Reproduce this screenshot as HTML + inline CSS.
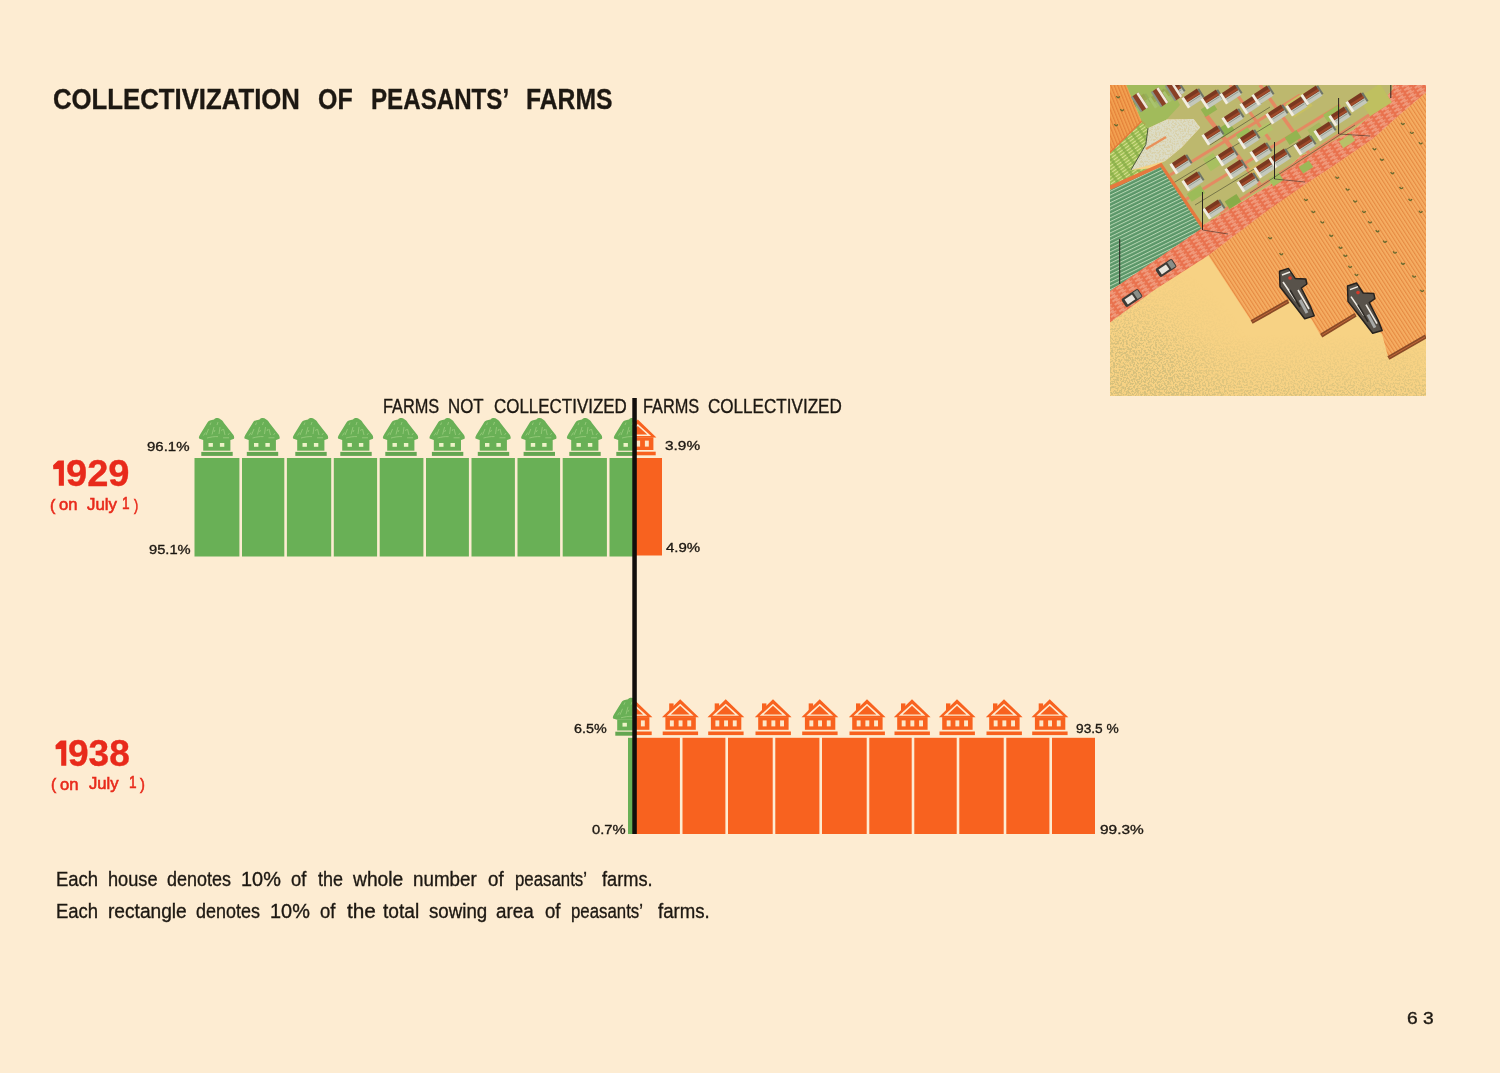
<!DOCTYPE html>
<html><head><meta charset="utf-8"><style>
html,body{margin:0;padding:0;}
body{width:1500px;height:1073px;overflow:hidden;background:#fdecd2;position:relative;font-family:"Liberation Sans",sans-serif;}
.t{position:absolute;white-space:pre;line-height:1;transform-origin:0 0;-webkit-text-stroke:0.35px currentColor;}
.abs{position:absolute;}
</style></head><body>
<svg class="abs" style="left:0;top:0" width="1500" height="1073" viewBox="0 0 1500 1073"><defs><clipPath id="cl1"><rect x="0" y="0" width="634.5" height="1073"/></clipPath><clipPath id="cr1"><rect x="634.5" y="0" width="900" height="1073"/></clipPath></defs><rect x="194.50" y="458" width="44.90" height="98.5" fill="#69b056"/><rect x="242.00" y="458" width="42.30" height="98.5" fill="#69b056"/><rect x="286.90" y="458" width="44.30" height="98.5" fill="#69b056"/><rect x="333.80" y="458" width="43.30" height="98.5" fill="#69b056"/><rect x="379.70" y="458" width="43.70" height="98.5" fill="#69b056"/><rect x="426.00" y="458" width="42.90" height="98.5" fill="#69b056"/><rect x="471.50" y="458" width="43.40" height="98.5" fill="#69b056"/><rect x="517.50" y="458" width="42.60" height="98.5" fill="#69b056"/><rect x="562.70" y="458" width="44.20" height="98.5" fill="#69b056"/><rect x="609.50" y="458" width="25.00" height="98.5" fill="#69b056"/><rect x="634.5" y="458" width="27.5" height="97.5" fill="#f8621f"/><g ><g transform="translate(217,458)"><path d="M-18,-19.4 C-18.6,-21 -17.2,-23 -16,-25 L-9.2,-36 C-8.8,-37.6 -6,-37.8 -3,-38.6 C-1.2,-40.4 1.6,-40.4 3.4,-38.8 C5,-38 6.2,-36.8 6.8,-35.2 L15.6,-24 C16.8,-22.6 17.6,-20.8 17,-19.2 L13.6,-18 L-13.8,-18 Z" fill="#69b056"/><g stroke="#a8d48a" stroke-width="0.8" fill="none" opacity="0.8"><path d="M-11,-23 L-8.5,-29"/><path d="M-5,-23.5 L-3,-31"/><path d="M2,-24 L3,-31"/><path d="M8,-23 L6.5,-29"/><path d="M-7,-33 L-6,-35.5"/><path d="M0,-33 L1,-36"/><path d="M-10,-20 C-6,-21 -3,-21.6 1,-21.4"/><path d="M6,-20.2 L12,-20.2"/><path d="M-13.5,-22.5 L-11.5,-25.5"/><path d="M11,-23 L12.5,-25"/><path d="M-3,-26 L-2,-28"/><path d="M4.5,-27 L5.5,-29"/></g><rect x="-13.8" y="-18.3" width="27.2" height="11" fill="#69b056"/><rect x="-8.5" y="-15" width="4.4" height="3.8" fill="#eef3c8"/><rect x="2.9" y="-15" width="4.4" height="3.8" fill="#eef3c8"/><rect x="-15.7" y="-6.1" width="31.4" height="4" fill="#64a651"/></g></g><g ><g transform="translate(262.5,458)"><path d="M-18,-19.4 C-18.6,-21 -17.2,-23 -16,-25 L-9.2,-36 C-8.8,-37.6 -6,-37.8 -3,-38.6 C-1.2,-40.4 1.6,-40.4 3.4,-38.8 C5,-38 6.2,-36.8 6.8,-35.2 L15.6,-24 C16.8,-22.6 17.6,-20.8 17,-19.2 L13.6,-18 L-13.8,-18 Z" fill="#69b056"/><g stroke="#a8d48a" stroke-width="0.8" fill="none" opacity="0.8"><path d="M-11,-23 L-8.5,-29"/><path d="M-5,-23.5 L-3,-31"/><path d="M2,-24 L3,-31"/><path d="M8,-23 L6.5,-29"/><path d="M-7,-33 L-6,-35.5"/><path d="M0,-33 L1,-36"/><path d="M-10,-20 C-6,-21 -3,-21.6 1,-21.4"/><path d="M6,-20.2 L12,-20.2"/><path d="M-13.5,-22.5 L-11.5,-25.5"/><path d="M11,-23 L12.5,-25"/><path d="M-3,-26 L-2,-28"/><path d="M4.5,-27 L5.5,-29"/></g><rect x="-13.8" y="-18.3" width="27.2" height="11" fill="#69b056"/><rect x="-8.5" y="-15" width="4.4" height="3.8" fill="#eef3c8"/><rect x="2.9" y="-15" width="4.4" height="3.8" fill="#eef3c8"/><rect x="-15.7" y="-6.1" width="31.4" height="4" fill="#64a651"/></g></g><g ><g transform="translate(311,458)"><path d="M-18,-19.4 C-18.6,-21 -17.2,-23 -16,-25 L-9.2,-36 C-8.8,-37.6 -6,-37.8 -3,-38.6 C-1.2,-40.4 1.6,-40.4 3.4,-38.8 C5,-38 6.2,-36.8 6.8,-35.2 L15.6,-24 C16.8,-22.6 17.6,-20.8 17,-19.2 L13.6,-18 L-13.8,-18 Z" fill="#69b056"/><g stroke="#a8d48a" stroke-width="0.8" fill="none" opacity="0.8"><path d="M-11,-23 L-8.5,-29"/><path d="M-5,-23.5 L-3,-31"/><path d="M2,-24 L3,-31"/><path d="M8,-23 L6.5,-29"/><path d="M-7,-33 L-6,-35.5"/><path d="M0,-33 L1,-36"/><path d="M-10,-20 C-6,-21 -3,-21.6 1,-21.4"/><path d="M6,-20.2 L12,-20.2"/><path d="M-13.5,-22.5 L-11.5,-25.5"/><path d="M11,-23 L12.5,-25"/><path d="M-3,-26 L-2,-28"/><path d="M4.5,-27 L5.5,-29"/></g><rect x="-13.8" y="-18.3" width="27.2" height="11" fill="#69b056"/><rect x="-8.5" y="-15" width="4.4" height="3.8" fill="#eef3c8"/><rect x="2.9" y="-15" width="4.4" height="3.8" fill="#eef3c8"/><rect x="-15.7" y="-6.1" width="31.4" height="4" fill="#64a651"/></g></g><g ><g transform="translate(356,458)"><path d="M-18,-19.4 C-18.6,-21 -17.2,-23 -16,-25 L-9.2,-36 C-8.8,-37.6 -6,-37.8 -3,-38.6 C-1.2,-40.4 1.6,-40.4 3.4,-38.8 C5,-38 6.2,-36.8 6.8,-35.2 L15.6,-24 C16.8,-22.6 17.6,-20.8 17,-19.2 L13.6,-18 L-13.8,-18 Z" fill="#69b056"/><g stroke="#a8d48a" stroke-width="0.8" fill="none" opacity="0.8"><path d="M-11,-23 L-8.5,-29"/><path d="M-5,-23.5 L-3,-31"/><path d="M2,-24 L3,-31"/><path d="M8,-23 L6.5,-29"/><path d="M-7,-33 L-6,-35.5"/><path d="M0,-33 L1,-36"/><path d="M-10,-20 C-6,-21 -3,-21.6 1,-21.4"/><path d="M6,-20.2 L12,-20.2"/><path d="M-13.5,-22.5 L-11.5,-25.5"/><path d="M11,-23 L12.5,-25"/><path d="M-3,-26 L-2,-28"/><path d="M4.5,-27 L5.5,-29"/></g><rect x="-13.8" y="-18.3" width="27.2" height="11" fill="#69b056"/><rect x="-8.5" y="-15" width="4.4" height="3.8" fill="#eef3c8"/><rect x="2.9" y="-15" width="4.4" height="3.8" fill="#eef3c8"/><rect x="-15.7" y="-6.1" width="31.4" height="4" fill="#64a651"/></g></g><g ><g transform="translate(401,458)"><path d="M-18,-19.4 C-18.6,-21 -17.2,-23 -16,-25 L-9.2,-36 C-8.8,-37.6 -6,-37.8 -3,-38.6 C-1.2,-40.4 1.6,-40.4 3.4,-38.8 C5,-38 6.2,-36.8 6.8,-35.2 L15.6,-24 C16.8,-22.6 17.6,-20.8 17,-19.2 L13.6,-18 L-13.8,-18 Z" fill="#69b056"/><g stroke="#a8d48a" stroke-width="0.8" fill="none" opacity="0.8"><path d="M-11,-23 L-8.5,-29"/><path d="M-5,-23.5 L-3,-31"/><path d="M2,-24 L3,-31"/><path d="M8,-23 L6.5,-29"/><path d="M-7,-33 L-6,-35.5"/><path d="M0,-33 L1,-36"/><path d="M-10,-20 C-6,-21 -3,-21.6 1,-21.4"/><path d="M6,-20.2 L12,-20.2"/><path d="M-13.5,-22.5 L-11.5,-25.5"/><path d="M11,-23 L12.5,-25"/><path d="M-3,-26 L-2,-28"/><path d="M4.5,-27 L5.5,-29"/></g><rect x="-13.8" y="-18.3" width="27.2" height="11" fill="#69b056"/><rect x="-8.5" y="-15" width="4.4" height="3.8" fill="#eef3c8"/><rect x="2.9" y="-15" width="4.4" height="3.8" fill="#eef3c8"/><rect x="-15.7" y="-6.1" width="31.4" height="4" fill="#64a651"/></g></g><g ><g transform="translate(447.6,458)"><path d="M-18,-19.4 C-18.6,-21 -17.2,-23 -16,-25 L-9.2,-36 C-8.8,-37.6 -6,-37.8 -3,-38.6 C-1.2,-40.4 1.6,-40.4 3.4,-38.8 C5,-38 6.2,-36.8 6.8,-35.2 L15.6,-24 C16.8,-22.6 17.6,-20.8 17,-19.2 L13.6,-18 L-13.8,-18 Z" fill="#69b056"/><g stroke="#a8d48a" stroke-width="0.8" fill="none" opacity="0.8"><path d="M-11,-23 L-8.5,-29"/><path d="M-5,-23.5 L-3,-31"/><path d="M2,-24 L3,-31"/><path d="M8,-23 L6.5,-29"/><path d="M-7,-33 L-6,-35.5"/><path d="M0,-33 L1,-36"/><path d="M-10,-20 C-6,-21 -3,-21.6 1,-21.4"/><path d="M6,-20.2 L12,-20.2"/><path d="M-13.5,-22.5 L-11.5,-25.5"/><path d="M11,-23 L12.5,-25"/><path d="M-3,-26 L-2,-28"/><path d="M4.5,-27 L5.5,-29"/></g><rect x="-13.8" y="-18.3" width="27.2" height="11" fill="#69b056"/><rect x="-8.5" y="-15" width="4.4" height="3.8" fill="#eef3c8"/><rect x="2.9" y="-15" width="4.4" height="3.8" fill="#eef3c8"/><rect x="-15.7" y="-6.1" width="31.4" height="4" fill="#64a651"/></g></g><g ><g transform="translate(493.5,458)"><path d="M-18,-19.4 C-18.6,-21 -17.2,-23 -16,-25 L-9.2,-36 C-8.8,-37.6 -6,-37.8 -3,-38.6 C-1.2,-40.4 1.6,-40.4 3.4,-38.8 C5,-38 6.2,-36.8 6.8,-35.2 L15.6,-24 C16.8,-22.6 17.6,-20.8 17,-19.2 L13.6,-18 L-13.8,-18 Z" fill="#69b056"/><g stroke="#a8d48a" stroke-width="0.8" fill="none" opacity="0.8"><path d="M-11,-23 L-8.5,-29"/><path d="M-5,-23.5 L-3,-31"/><path d="M2,-24 L3,-31"/><path d="M8,-23 L6.5,-29"/><path d="M-7,-33 L-6,-35.5"/><path d="M0,-33 L1,-36"/><path d="M-10,-20 C-6,-21 -3,-21.6 1,-21.4"/><path d="M6,-20.2 L12,-20.2"/><path d="M-13.5,-22.5 L-11.5,-25.5"/><path d="M11,-23 L12.5,-25"/><path d="M-3,-26 L-2,-28"/><path d="M4.5,-27 L5.5,-29"/></g><rect x="-13.8" y="-18.3" width="27.2" height="11" fill="#69b056"/><rect x="-8.5" y="-15" width="4.4" height="3.8" fill="#eef3c8"/><rect x="2.9" y="-15" width="4.4" height="3.8" fill="#eef3c8"/><rect x="-15.7" y="-6.1" width="31.4" height="4" fill="#64a651"/></g></g><g ><g transform="translate(539.3,458)"><path d="M-18,-19.4 C-18.6,-21 -17.2,-23 -16,-25 L-9.2,-36 C-8.8,-37.6 -6,-37.8 -3,-38.6 C-1.2,-40.4 1.6,-40.4 3.4,-38.8 C5,-38 6.2,-36.8 6.8,-35.2 L15.6,-24 C16.8,-22.6 17.6,-20.8 17,-19.2 L13.6,-18 L-13.8,-18 Z" fill="#69b056"/><g stroke="#a8d48a" stroke-width="0.8" fill="none" opacity="0.8"><path d="M-11,-23 L-8.5,-29"/><path d="M-5,-23.5 L-3,-31"/><path d="M2,-24 L3,-31"/><path d="M8,-23 L6.5,-29"/><path d="M-7,-33 L-6,-35.5"/><path d="M0,-33 L1,-36"/><path d="M-10,-20 C-6,-21 -3,-21.6 1,-21.4"/><path d="M6,-20.2 L12,-20.2"/><path d="M-13.5,-22.5 L-11.5,-25.5"/><path d="M11,-23 L12.5,-25"/><path d="M-3,-26 L-2,-28"/><path d="M4.5,-27 L5.5,-29"/></g><rect x="-13.8" y="-18.3" width="27.2" height="11" fill="#69b056"/><rect x="-8.5" y="-15" width="4.4" height="3.8" fill="#eef3c8"/><rect x="2.9" y="-15" width="4.4" height="3.8" fill="#eef3c8"/><rect x="-15.7" y="-6.1" width="31.4" height="4" fill="#64a651"/></g></g><g ><g transform="translate(585,458)"><path d="M-18,-19.4 C-18.6,-21 -17.2,-23 -16,-25 L-9.2,-36 C-8.8,-37.6 -6,-37.8 -3,-38.6 C-1.2,-40.4 1.6,-40.4 3.4,-38.8 C5,-38 6.2,-36.8 6.8,-35.2 L15.6,-24 C16.8,-22.6 17.6,-20.8 17,-19.2 L13.6,-18 L-13.8,-18 Z" fill="#69b056"/><g stroke="#a8d48a" stroke-width="0.8" fill="none" opacity="0.8"><path d="M-11,-23 L-8.5,-29"/><path d="M-5,-23.5 L-3,-31"/><path d="M2,-24 L3,-31"/><path d="M8,-23 L6.5,-29"/><path d="M-7,-33 L-6,-35.5"/><path d="M0,-33 L1,-36"/><path d="M-10,-20 C-6,-21 -3,-21.6 1,-21.4"/><path d="M6,-20.2 L12,-20.2"/><path d="M-13.5,-22.5 L-11.5,-25.5"/><path d="M11,-23 L12.5,-25"/><path d="M-3,-26 L-2,-28"/><path d="M4.5,-27 L5.5,-29"/></g><rect x="-13.8" y="-18.3" width="27.2" height="11" fill="#69b056"/><rect x="-8.5" y="-15" width="4.4" height="3.8" fill="#eef3c8"/><rect x="2.9" y="-15" width="4.4" height="3.8" fill="#eef3c8"/><rect x="-15.7" y="-6.1" width="31.4" height="4" fill="#64a651"/></g></g><g clip-path="url(#cl1)"><g transform="translate(632,458)"><path d="M-18,-19.4 C-18.6,-21 -17.2,-23 -16,-25 L-9.2,-36 C-8.8,-37.6 -6,-37.8 -3,-38.6 C-1.2,-40.4 1.6,-40.4 3.4,-38.8 C5,-38 6.2,-36.8 6.8,-35.2 L15.6,-24 C16.8,-22.6 17.6,-20.8 17,-19.2 L13.6,-18 L-13.8,-18 Z" fill="#69b056"/><g stroke="#a8d48a" stroke-width="0.8" fill="none" opacity="0.8"><path d="M-11,-23 L-8.5,-29"/><path d="M-5,-23.5 L-3,-31"/><path d="M2,-24 L3,-31"/><path d="M8,-23 L6.5,-29"/><path d="M-7,-33 L-6,-35.5"/><path d="M0,-33 L1,-36"/><path d="M-10,-20 C-6,-21 -3,-21.6 1,-21.4"/><path d="M6,-20.2 L12,-20.2"/><path d="M-13.5,-22.5 L-11.5,-25.5"/><path d="M11,-23 L12.5,-25"/><path d="M-3,-26 L-2,-28"/><path d="M4.5,-27 L5.5,-29"/></g><rect x="-13.8" y="-18.3" width="27.2" height="11" fill="#69b056"/><rect x="-8.5" y="-15" width="4.4" height="3.8" fill="#eef3c8"/><rect x="2.9" y="-15" width="4.4" height="3.8" fill="#eef3c8"/><rect x="-15.7" y="-6.1" width="31.4" height="4" fill="#64a651"/></g></g><g clip-path="url(#cr1)"><g transform="translate(638,458.6)"><rect x="-11.2" y="-35" width="4.4" height="10" fill="#f8621f"/><path d="M-18.4,-21.2 L-0.2,-39.2 L18.4,-21.2 Z" fill="#f8621f"/><path d="M-13.6,-22.6 L-0.2,-34.6 L13.2,-22.6 Z" fill="#fdecd2"/><path d="M-9.6,-24 L-0.2,-32.6 L9.2,-24 Z" fill="#f8621f"/><rect x="-15" y="-21.3" width="30.4" height="12.7" fill="#f8621f"/><rect x="-10.5" y="-18" width="3.9" height="6" fill="#fde7c8"/><rect x="-1.8" y="-18" width="3.9" height="6" fill="#fde7c8"/><rect x="6.9" y="-18" width="3.9" height="6" fill="#fde7c8"/><rect x="-17.7" y="-6.9" width="35.4" height="3.6" fill="#f8621f"/></g></g><rect x="628" y="737.8" width="6.5" height="96.20000000000005" fill="#69b056"/><rect x="634.50" y="737.8" width="45.40" height="96.20000000000005" fill="#f8621f"/><rect x="682.50" y="737.8" width="42.90" height="96.20000000000005" fill="#f8621f"/><rect x="728.00" y="737.8" width="44.70" height="96.20000000000005" fill="#f8621f"/><rect x="775.30" y="737.8" width="44.10" height="96.20000000000005" fill="#f8621f"/><rect x="822.00" y="737.8" width="44.70" height="96.20000000000005" fill="#f8621f"/><rect x="869.30" y="737.8" width="42.40" height="96.20000000000005" fill="#f8621f"/><rect x="914.30" y="737.8" width="42.40" height="96.20000000000005" fill="#f8621f"/><rect x="959.30" y="737.8" width="44.40" height="96.20000000000005" fill="#f8621f"/><rect x="1006.30" y="737.8" width="43.10" height="96.20000000000005" fill="#f8621f"/><rect x="1052.00" y="737.8" width="43.00" height="96.20000000000005" fill="#f8621f"/><g clip-path="url(#cl1)"><g transform="translate(631,737.8)"><path d="M-18,-19.4 C-18.6,-21 -17.2,-23 -16,-25 L-9.2,-36 C-8.8,-37.6 -6,-37.8 -3,-38.6 C-1.2,-40.4 1.6,-40.4 3.4,-38.8 C5,-38 6.2,-36.8 6.8,-35.2 L15.6,-24 C16.8,-22.6 17.6,-20.8 17,-19.2 L13.6,-18 L-13.8,-18 Z" fill="#69b056"/><g stroke="#a8d48a" stroke-width="0.8" fill="none" opacity="0.8"><path d="M-11,-23 L-8.5,-29"/><path d="M-5,-23.5 L-3,-31"/><path d="M2,-24 L3,-31"/><path d="M8,-23 L6.5,-29"/><path d="M-7,-33 L-6,-35.5"/><path d="M0,-33 L1,-36"/><path d="M-10,-20 C-6,-21 -3,-21.6 1,-21.4"/><path d="M6,-20.2 L12,-20.2"/><path d="M-13.5,-22.5 L-11.5,-25.5"/><path d="M11,-23 L12.5,-25"/><path d="M-3,-26 L-2,-28"/><path d="M4.5,-27 L5.5,-29"/></g><rect x="-13.8" y="-18.3" width="27.2" height="11" fill="#69b056"/><rect x="-8.5" y="-15" width="4.4" height="3.8" fill="#eef3c8"/><rect x="2.9" y="-15" width="4.4" height="3.8" fill="#eef3c8"/><rect x="-15.7" y="-6.1" width="31.4" height="4" fill="#64a651"/></g></g><g clip-path="url(#cr1)"><g transform="translate(634,738.4)"><rect x="-11.2" y="-35" width="4.4" height="10" fill="#f8621f"/><path d="M-18.4,-21.2 L-0.2,-39.2 L18.4,-21.2 Z" fill="#f8621f"/><path d="M-13.6,-22.6 L-0.2,-34.6 L13.2,-22.6 Z" fill="#fdecd2"/><path d="M-9.6,-24 L-0.2,-32.6 L9.2,-24 Z" fill="#f8621f"/><rect x="-15" y="-21.3" width="30.4" height="12.7" fill="#f8621f"/><rect x="-10.5" y="-18" width="3.9" height="6" fill="#fde7c8"/><rect x="-1.8" y="-18" width="3.9" height="6" fill="#fde7c8"/><rect x="6.9" y="-18" width="3.9" height="6" fill="#fde7c8"/><rect x="-17.7" y="-6.9" width="35.4" height="3.6" fill="#f8621f"/></g></g><g ><g transform="translate(680.4000000000001,738.4)"><rect x="-11.2" y="-35" width="4.4" height="10" fill="#f8621f"/><path d="M-18.4,-21.2 L-0.2,-39.2 L18.4,-21.2 Z" fill="#f8621f"/><path d="M-13.6,-22.6 L-0.2,-34.6 L13.2,-22.6 Z" fill="#fdecd2"/><path d="M-9.6,-24 L-0.2,-32.6 L9.2,-24 Z" fill="#f8621f"/><rect x="-15" y="-21.3" width="30.4" height="12.7" fill="#f8621f"/><rect x="-10.5" y="-18" width="3.9" height="6" fill="#fde7c8"/><rect x="-1.8" y="-18" width="3.9" height="6" fill="#fde7c8"/><rect x="6.9" y="-18" width="3.9" height="6" fill="#fde7c8"/><rect x="-17.7" y="-6.9" width="35.4" height="3.6" fill="#f8621f"/></g></g><g ><g transform="translate(725.9000000000001,738.4)"><rect x="-11.2" y="-35" width="4.4" height="10" fill="#f8621f"/><path d="M-18.4,-21.2 L-0.2,-39.2 L18.4,-21.2 Z" fill="#f8621f"/><path d="M-13.6,-22.6 L-0.2,-34.6 L13.2,-22.6 Z" fill="#fdecd2"/><path d="M-9.6,-24 L-0.2,-32.6 L9.2,-24 Z" fill="#f8621f"/><rect x="-15" y="-21.3" width="30.4" height="12.7" fill="#f8621f"/><rect x="-10.5" y="-18" width="3.9" height="6" fill="#fde7c8"/><rect x="-1.8" y="-18" width="3.9" height="6" fill="#fde7c8"/><rect x="6.9" y="-18" width="3.9" height="6" fill="#fde7c8"/><rect x="-17.7" y="-6.9" width="35.4" height="3.6" fill="#f8621f"/></g></g><g ><g transform="translate(773.2,738.4)"><rect x="-11.2" y="-35" width="4.4" height="10" fill="#f8621f"/><path d="M-18.4,-21.2 L-0.2,-39.2 L18.4,-21.2 Z" fill="#f8621f"/><path d="M-13.6,-22.6 L-0.2,-34.6 L13.2,-22.6 Z" fill="#fdecd2"/><path d="M-9.6,-24 L-0.2,-32.6 L9.2,-24 Z" fill="#f8621f"/><rect x="-15" y="-21.3" width="30.4" height="12.7" fill="#f8621f"/><rect x="-10.5" y="-18" width="3.9" height="6" fill="#fde7c8"/><rect x="-1.8" y="-18" width="3.9" height="6" fill="#fde7c8"/><rect x="6.9" y="-18" width="3.9" height="6" fill="#fde7c8"/><rect x="-17.7" y="-6.9" width="35.4" height="3.6" fill="#f8621f"/></g></g><g ><g transform="translate(819.9000000000001,738.4)"><rect x="-11.2" y="-35" width="4.4" height="10" fill="#f8621f"/><path d="M-18.4,-21.2 L-0.2,-39.2 L18.4,-21.2 Z" fill="#f8621f"/><path d="M-13.6,-22.6 L-0.2,-34.6 L13.2,-22.6 Z" fill="#fdecd2"/><path d="M-9.6,-24 L-0.2,-32.6 L9.2,-24 Z" fill="#f8621f"/><rect x="-15" y="-21.3" width="30.4" height="12.7" fill="#f8621f"/><rect x="-10.5" y="-18" width="3.9" height="6" fill="#fde7c8"/><rect x="-1.8" y="-18" width="3.9" height="6" fill="#fde7c8"/><rect x="6.9" y="-18" width="3.9" height="6" fill="#fde7c8"/><rect x="-17.7" y="-6.9" width="35.4" height="3.6" fill="#f8621f"/></g></g><g ><g transform="translate(867.2,738.4)"><rect x="-11.2" y="-35" width="4.4" height="10" fill="#f8621f"/><path d="M-18.4,-21.2 L-0.2,-39.2 L18.4,-21.2 Z" fill="#f8621f"/><path d="M-13.6,-22.6 L-0.2,-34.6 L13.2,-22.6 Z" fill="#fdecd2"/><path d="M-9.6,-24 L-0.2,-32.6 L9.2,-24 Z" fill="#f8621f"/><rect x="-15" y="-21.3" width="30.4" height="12.7" fill="#f8621f"/><rect x="-10.5" y="-18" width="3.9" height="6" fill="#fde7c8"/><rect x="-1.8" y="-18" width="3.9" height="6" fill="#fde7c8"/><rect x="6.9" y="-18" width="3.9" height="6" fill="#fde7c8"/><rect x="-17.7" y="-6.9" width="35.4" height="3.6" fill="#f8621f"/></g></g><g ><g transform="translate(912.2,738.4)"><rect x="-11.2" y="-35" width="4.4" height="10" fill="#f8621f"/><path d="M-18.4,-21.2 L-0.2,-39.2 L18.4,-21.2 Z" fill="#f8621f"/><path d="M-13.6,-22.6 L-0.2,-34.6 L13.2,-22.6 Z" fill="#fdecd2"/><path d="M-9.6,-24 L-0.2,-32.6 L9.2,-24 Z" fill="#f8621f"/><rect x="-15" y="-21.3" width="30.4" height="12.7" fill="#f8621f"/><rect x="-10.5" y="-18" width="3.9" height="6" fill="#fde7c8"/><rect x="-1.8" y="-18" width="3.9" height="6" fill="#fde7c8"/><rect x="6.9" y="-18" width="3.9" height="6" fill="#fde7c8"/><rect x="-17.7" y="-6.9" width="35.4" height="3.6" fill="#f8621f"/></g></g><g ><g transform="translate(957.2,738.4)"><rect x="-11.2" y="-35" width="4.4" height="10" fill="#f8621f"/><path d="M-18.4,-21.2 L-0.2,-39.2 L18.4,-21.2 Z" fill="#f8621f"/><path d="M-13.6,-22.6 L-0.2,-34.6 L13.2,-22.6 Z" fill="#fdecd2"/><path d="M-9.6,-24 L-0.2,-32.6 L9.2,-24 Z" fill="#f8621f"/><rect x="-15" y="-21.3" width="30.4" height="12.7" fill="#f8621f"/><rect x="-10.5" y="-18" width="3.9" height="6" fill="#fde7c8"/><rect x="-1.8" y="-18" width="3.9" height="6" fill="#fde7c8"/><rect x="6.9" y="-18" width="3.9" height="6" fill="#fde7c8"/><rect x="-17.7" y="-6.9" width="35.4" height="3.6" fill="#f8621f"/></g></g><g ><g transform="translate(1004.2,738.4)"><rect x="-11.2" y="-35" width="4.4" height="10" fill="#f8621f"/><path d="M-18.4,-21.2 L-0.2,-39.2 L18.4,-21.2 Z" fill="#f8621f"/><path d="M-13.6,-22.6 L-0.2,-34.6 L13.2,-22.6 Z" fill="#fdecd2"/><path d="M-9.6,-24 L-0.2,-32.6 L9.2,-24 Z" fill="#f8621f"/><rect x="-15" y="-21.3" width="30.4" height="12.7" fill="#f8621f"/><rect x="-10.5" y="-18" width="3.9" height="6" fill="#fde7c8"/><rect x="-1.8" y="-18" width="3.9" height="6" fill="#fde7c8"/><rect x="6.9" y="-18" width="3.9" height="6" fill="#fde7c8"/><rect x="-17.7" y="-6.9" width="35.4" height="3.6" fill="#f8621f"/></g></g><g ><g transform="translate(1049.9,738.4)"><rect x="-11.2" y="-35" width="4.4" height="10" fill="#f8621f"/><path d="M-18.4,-21.2 L-0.2,-39.2 L18.4,-21.2 Z" fill="#f8621f"/><path d="M-13.6,-22.6 L-0.2,-34.6 L13.2,-22.6 Z" fill="#fdecd2"/><path d="M-9.6,-24 L-0.2,-32.6 L9.2,-24 Z" fill="#f8621f"/><rect x="-15" y="-21.3" width="30.4" height="12.7" fill="#f8621f"/><rect x="-10.5" y="-18" width="3.9" height="6" fill="#fde7c8"/><rect x="-1.8" y="-18" width="3.9" height="6" fill="#fde7c8"/><rect x="6.9" y="-18" width="3.9" height="6" fill="#fde7c8"/><rect x="-17.7" y="-6.9" width="35.4" height="3.6" fill="#f8621f"/></g></g><rect x="632.3" y="398" width="4.5" height="436" fill="#120e0c"/></svg>
<div class="abs" style="left:1110px;top:85px;width:316px;height:311px"><svg width="316" height="311" viewBox="0 0 316 311" style="display:block"><defs>
<pattern id="pOr" patternUnits="userSpaceOnUse" width="3.2" height="8" patternTransform="rotate(-33)">
<rect width="3.2" height="8" fill="#f5ad62"/><rect x="0" width="1.1" height="8" fill="#e68a42"/></pattern>
<pattern id="pOr2" patternUnits="userSpaceOnUse" width="3.2" height="8" patternTransform="rotate(-22)">
<rect width="3.2" height="8" fill="#f2a050"/><rect x="0" width="1.2" height="8" fill="#e4823a"/></pattern>
<pattern id="pGr" patternUnits="userSpaceOnUse" width="8" height="3.4" patternTransform="rotate(-26)">
<rect width="8" height="3.4" fill="#5a9668"/><rect y="0" width="8" height="1.0" fill="#b4d4b0"/></pattern>
<pattern id="pLg" patternUnits="userSpaceOnUse" width="8" height="3" patternTransform="rotate(-35)">
<rect width="8" height="3" fill="#9fbf55"/><rect y="0" width="5" height="1" fill="#d6e090"/><rect x="5" y="1.5" width="3" height="0.8" fill="#6f9a40"/></pattern>
<pattern id="pRd" patternUnits="userSpaceOnUse" width="10" height="4" patternTransform="rotate(-34)">
<rect width="10" height="4" fill="#e9724e"/><rect x="1" y="0.5" width="6" height="0.9" fill="#f8c8b0"/><rect x="4" y="2.4" width="5" height="0.8" fill="#f4b49a"/></pattern>
<filter id="spk" x="0" y="0" width="100%" height="100%">
<feTurbulence type="fractalNoise" baseFrequency="0.55" numOctaves="2" seed="3" result="n"/>
<feColorMatrix in="n" type="matrix" values="0 0 0 0 0.66  0 0 0 0 0.52  0 0 0 0 0.20  0 0 0 -6 3.3" result="c"/>
<feComposite in="c" in2="SourceGraphic" operator="in"/>
</filter>
<radialGradient id="gR" cx="10" cy="311" r="140" gradientUnits="userSpaceOnUse">
<stop offset="0" stop-color="#fff" stop-opacity="1"/><stop offset="0.4" stop-color="#fff" stop-opacity="0.9"/><stop offset="0.75" stop-color="#fff" stop-opacity="0.2"/><stop offset="1" stop-color="#fff" stop-opacity="0"/></radialGradient>
<linearGradient id="gB" x1="0" y1="311" x2="0" y2="250" gradientUnits="userSpaceOnUse">
<stop offset="0" stop-color="#fff" stop-opacity="0.9"/><stop offset="0.2" stop-color="#fff" stop-opacity="0.6"/><stop offset="1" stop-color="#fff" stop-opacity="0"/></linearGradient>
<mask id="mR"><rect width="316" height="311" fill="url(#gR)"/></mask>
<mask id="mB"><rect width="316" height="311" fill="url(#gB)"/></mask>
</defs><rect width="316" height="311" fill="#f7d284"/><g mask="url(#mR)"><rect x="0" y="150" width="316" height="161" fill="#000" filter="url(#spk)"/></g><g mask="url(#mB)"><rect x="0" y="240" width="316" height="71" fill="#000" filter="url(#spk)"/></g><path d="M98.4,170.4 L123.8,151 L150,129.7 L198.8,96.9 L224.1,80.5 L262.9,53.7 L289.7,29.8 L314.3,8.9 L316,8 L316,250.6 L278.4,273 L272,249 L246.4,229.8 L211.2,251.4 L201.6,234.6 L179.2,215.4 L142.4,237.8 Z" fill="url(#pOr)"/><path d="M0,204 L89.5,142 L160,100 L189.8,71.6 L216.7,59.6 L243.5,44.7 L261.4,29.8 L282.3,4.5 L282.3,0 L316,0 L316,8 L314.3,8.9 L289.7,29.8 L262.9,53.7 L224.1,80.5 L198.8,96.9 L160,123.8 L123.8,151 L98.4,170.4 L44.7,204.7 L0,237.5 Z" fill="url(#pRd)"/><path d="M47,80 L89.5,142 L160,100 L189.8,71.6 L216.7,59.6 L243.5,44.7 L261.4,29.8 L282.3,4.5 L282.3,0 L16,0 L32,37 L38,43.2 L56.7,34.6 L83.5,34 L90.2,42.5 L71.6,62.6 L55.2,76 Z" fill="#bdb86e"/><line x1="96" y1="30" x2="150" y2="100" stroke="#e48a62" stroke-width="4.5"/><line x1="150" y1="0" x2="200" y2="70" stroke="#e48a62" stroke-width="3.5"/><line x1="60" y1="90" x2="190" y2="10" stroke="#e48a62" stroke-width="3"/><line x1="75" y1="115" x2="230" y2="20" stroke="#e48a62" stroke-width="3"/><line x1="110" y1="128" x2="262" y2="28" stroke="#e48a62" stroke-width="3"/><line x1="120" y1="0" x2="160" y2="55" stroke="#e48a62" stroke-width="3"/><rect x="178" y="12" width="22" height="16" fill="#c8c060" transform="rotate(-33 189.0 20.0)"/><rect x="252" y="4" width="26" height="22" fill="#bfc060" transform="rotate(-33 265.0 15.0)"/><rect x="128" y="45" width="14" height="12" fill="#9cbc58" transform="rotate(-33 135.0 51.0)"/><rect x="96" y="70" width="12" height="14" fill="#a8c060" transform="rotate(-33 102.0 77.0)"/><rect x="140" y="80" width="14" height="12" fill="#d0b860" transform="rotate(-33 147.0 86.0)"/><rect x="200" y="40" width="14" height="14" fill="#a8b860" transform="rotate(-33 207.0 47.0)"/><rect x="62" y="38" width="18" height="10" fill="#98b850" transform="rotate(-33 71.0 43.0)"/><rect x="108" y="40" width="15" height="10" fill="#8cb04c" transform="rotate(-33 115.5 45.0)"/><rect x="78" y="104" width="16" height="9" fill="#9cbc58" transform="rotate(-33 86.0 108.5)"/><rect x="148" y="40" width="14" height="9" fill="#b4c468" transform="rotate(-33 155.0 44.5)"/><rect x="176" y="48" width="14" height="9" fill="#94b450" transform="rotate(-33 183.0 52.5)"/><rect x="214" y="24" width="18" height="9" fill="#a0bc58" transform="rotate(-33 223.0 28.5)"/><rect x="116" y="112" width="14" height="9" fill="#88ac48" transform="rotate(-33 123.0 116.5)"/><rect x="160" y="90" width="12" height="9" fill="#a4c060" transform="rotate(-33 166.0 94.5)"/><rect x="92" y="20" width="14" height="9" fill="#94b450" transform="rotate(-33 99.0 24.5)"/><rect x="230" y="52" width="14" height="8" fill="#b8c068" transform="rotate(-33 237.0 56.0)"/><rect x="190" y="78" width="12" height="8" fill="#9cb858" transform="rotate(-33 196.0 82.0)"/><line x1="60" y1="100" x2="175" y2="30" stroke="#5a5a38" stroke-width="1" opacity="0.7"/><line x1="85" y1="120" x2="200" y2="50" stroke="#5a5a38" stroke-width="1" opacity="0.7"/><line x1="100" y1="60" x2="160" y2="22" stroke="#5a5a38" stroke-width="1" opacity="0.7"/><line x1="140" y1="108" x2="245" y2="40" stroke="#5a5a38" stroke-width="1" opacity="0.7"/><g transform="translate(30,17) rotate(-33)"><rect x="-8" y="1" width="16" height="6" fill="#c4c8bc"/><rect x="-7" y="2.5" width="14" height="0.8" fill="#8e9890"/><rect x="-8" y="-5" width="16" height="6.5" fill="#7a3820"/><rect x="-8" y="-1.2" width="16" height="2.2" fill="#a04a2a"/><rect x="-10.5" y="-5" width="2.8" height="12" fill="#f2ede2"/><rect x="7.8" y="-4" width="2" height="10" fill="#6e7468"/></g><g transform="translate(50,12) rotate(-33)"><rect x="-8" y="1" width="16" height="6" fill="#c4c8bc"/><rect x="-7" y="2.5" width="14" height="0.8" fill="#8e9890"/><rect x="-8" y="-5" width="16" height="6.5" fill="#7a3820"/><rect x="-8" y="-1.2" width="16" height="2.2" fill="#a04a2a"/><rect x="-10.5" y="-5" width="2.8" height="12" fill="#f2ede2"/><rect x="7.8" y="-4" width="2" height="10" fill="#6e7468"/></g><g transform="translate(64,6) rotate(-33)"><rect x="-8" y="1" width="16" height="6" fill="#c4c8bc"/><rect x="-7" y="2.5" width="14" height="0.8" fill="#8e9890"/><rect x="-8" y="-5" width="16" height="6.5" fill="#7a3820"/><rect x="-8" y="-1.2" width="16" height="2.2" fill="#a04a2a"/><rect x="-10.5" y="-5" width="2.8" height="12" fill="#f2ede2"/><rect x="7.8" y="-4" width="2" height="10" fill="#6e7468"/></g><g transform="translate(83,12) rotate(-33)"><rect x="-8" y="1" width="16" height="6" fill="#c4c8bc"/><rect x="-7" y="2.5" width="14" height="0.8" fill="#8e9890"/><rect x="-8" y="-5" width="16" height="6.5" fill="#7a3820"/><rect x="-8" y="-1.2" width="16" height="2.2" fill="#a04a2a"/><rect x="-10.5" y="-5" width="2.8" height="12" fill="#f2ede2"/><rect x="7.8" y="-4" width="2" height="10" fill="#6e7468"/></g><g transform="translate(102,13) rotate(-33)"><rect x="-8" y="1" width="16" height="6" fill="#c4c8bc"/><rect x="-7" y="2.5" width="14" height="0.8" fill="#8e9890"/><rect x="-8" y="-5" width="16" height="6.5" fill="#7a3820"/><rect x="-8" y="-1.2" width="16" height="2.2" fill="#a04a2a"/><rect x="-10.5" y="-5" width="2.8" height="12" fill="#f2ede2"/><rect x="7.8" y="-4" width="2" height="10" fill="#6e7468"/></g><g transform="translate(121,8) rotate(-33)"><rect x="-8" y="1" width="16" height="6" fill="#c4c8bc"/><rect x="-7" y="2.5" width="14" height="0.8" fill="#8e9890"/><rect x="-8" y="-5" width="16" height="6.5" fill="#7a3820"/><rect x="-8" y="-1.2" width="16" height="2.2" fill="#a04a2a"/><rect x="-10.5" y="-5" width="2.8" height="12" fill="#f2ede2"/><rect x="7.8" y="-4" width="2" height="10" fill="#6e7468"/></g><g transform="translate(141,18) rotate(-33)"><rect x="-8" y="1" width="16" height="6" fill="#c4c8bc"/><rect x="-7" y="2.5" width="14" height="0.8" fill="#8e9890"/><rect x="-8" y="-5" width="16" height="6.5" fill="#7a3820"/><rect x="-8" y="-1.2" width="16" height="2.2" fill="#a04a2a"/><rect x="-10.5" y="-5" width="2.8" height="12" fill="#f2ede2"/><rect x="7.8" y="-4" width="2" height="10" fill="#6e7468"/></g><g transform="translate(153,9) rotate(-33)"><rect x="-8" y="1" width="16" height="6" fill="#c4c8bc"/><rect x="-7" y="2.5" width="14" height="0.8" fill="#8e9890"/><rect x="-8" y="-5" width="16" height="6.5" fill="#7a3820"/><rect x="-8" y="-1.2" width="16" height="2.2" fill="#a04a2a"/><rect x="-10.5" y="-5" width="2.8" height="12" fill="#f2ede2"/><rect x="7.8" y="-4" width="2" height="10" fill="#6e7468"/></g><g transform="translate(123,32) rotate(-33)"><rect x="-8" y="1" width="16" height="6" fill="#c4c8bc"/><rect x="-7" y="2.5" width="14" height="0.8" fill="#8e9890"/><rect x="-8" y="-5" width="16" height="6.5" fill="#7a3820"/><rect x="-8" y="-1.2" width="16" height="2.2" fill="#a04a2a"/><rect x="-10.5" y="-5" width="2.8" height="12" fill="#f2ede2"/><rect x="7.8" y="-4" width="2" height="10" fill="#6e7468"/></g><g transform="translate(103,49) rotate(-33)"><rect x="-8" y="1" width="16" height="6" fill="#c4c8bc"/><rect x="-7" y="2.5" width="14" height="0.8" fill="#8e9890"/><rect x="-8" y="-5" width="16" height="6.5" fill="#7a3820"/><rect x="-8" y="-1.2" width="16" height="2.2" fill="#a04a2a"/><rect x="-10.5" y="-5" width="2.8" height="12" fill="#f2ede2"/><rect x="7.8" y="-4" width="2" height="10" fill="#6e7468"/></g><g transform="translate(139,53) rotate(-33)"><rect x="-8" y="1" width="16" height="6" fill="#c4c8bc"/><rect x="-7" y="2.5" width="14" height="0.8" fill="#8e9890"/><rect x="-8" y="-5" width="16" height="6.5" fill="#7a3820"/><rect x="-8" y="-1.2" width="16" height="2.2" fill="#a04a2a"/><rect x="-10.5" y="-5" width="2.8" height="12" fill="#f2ede2"/><rect x="7.8" y="-4" width="2" height="10" fill="#6e7468"/></g><g transform="translate(71,78) rotate(-33)"><rect x="-8" y="1" width="16" height="6" fill="#c4c8bc"/><rect x="-7" y="2.5" width="14" height="0.8" fill="#8e9890"/><rect x="-8" y="-5" width="16" height="6.5" fill="#7a3820"/><rect x="-8" y="-1.2" width="16" height="2.2" fill="#a04a2a"/><rect x="-10.5" y="-5" width="2.8" height="12" fill="#f2ede2"/><rect x="7.8" y="-4" width="2" height="10" fill="#6e7468"/></g><g transform="translate(117,70) rotate(-33)"><rect x="-8" y="1" width="16" height="6" fill="#c4c8bc"/><rect x="-7" y="2.5" width="14" height="0.8" fill="#8e9890"/><rect x="-8" y="-5" width="16" height="6.5" fill="#7a3820"/><rect x="-8" y="-1.2" width="16" height="2.2" fill="#a04a2a"/><rect x="-10.5" y="-5" width="2.8" height="12" fill="#f2ede2"/><rect x="7.8" y="-4" width="2" height="10" fill="#6e7468"/></g><g transform="translate(83,95) rotate(-33)"><rect x="-8" y="1" width="16" height="6" fill="#c4c8bc"/><rect x="-7" y="2.5" width="14" height="0.8" fill="#8e9890"/><rect x="-8" y="-5" width="16" height="6.5" fill="#7a3820"/><rect x="-8" y="-1.2" width="16" height="2.2" fill="#a04a2a"/><rect x="-10.5" y="-5" width="2.8" height="12" fill="#f2ede2"/><rect x="7.8" y="-4" width="2" height="10" fill="#6e7468"/></g><g transform="translate(126,83) rotate(-33)"><rect x="-8" y="1" width="16" height="6" fill="#c4c8bc"/><rect x="-7" y="2.5" width="14" height="0.8" fill="#8e9890"/><rect x="-8" y="-5" width="16" height="6.5" fill="#7a3820"/><rect x="-8" y="-1.2" width="16" height="2.2" fill="#a04a2a"/><rect x="-10.5" y="-5" width="2.8" height="12" fill="#f2ede2"/><rect x="7.8" y="-4" width="2" height="10" fill="#6e7468"/></g><g transform="translate(151,66) rotate(-33)"><rect x="-8" y="1" width="16" height="6" fill="#c4c8bc"/><rect x="-7" y="2.5" width="14" height="0.8" fill="#8e9890"/><rect x="-8" y="-5" width="16" height="6.5" fill="#7a3820"/><rect x="-8" y="-1.2" width="16" height="2.2" fill="#a04a2a"/><rect x="-10.5" y="-5" width="2.8" height="12" fill="#f2ede2"/><rect x="7.8" y="-4" width="2" height="10" fill="#6e7468"/></g><g transform="translate(104,123) rotate(-33)"><rect x="-8" y="1" width="16" height="6" fill="#c4c8bc"/><rect x="-7" y="2.5" width="14" height="0.8" fill="#8e9890"/><rect x="-8" y="-5" width="16" height="6.5" fill="#7a3820"/><rect x="-8" y="-1.2" width="16" height="2.2" fill="#a04a2a"/><rect x="-10.5" y="-5" width="2.8" height="12" fill="#f2ede2"/><rect x="7.8" y="-4" width="2" height="10" fill="#6e7468"/></g><g transform="translate(138,96) rotate(-33)"><rect x="-8" y="1" width="16" height="6" fill="#c4c8bc"/><rect x="-7" y="2.5" width="14" height="0.8" fill="#8e9890"/><rect x="-8" y="-5" width="16" height="6.5" fill="#7a3820"/><rect x="-8" y="-1.2" width="16" height="2.2" fill="#a04a2a"/><rect x="-10.5" y="-5" width="2.8" height="12" fill="#f2ede2"/><rect x="7.8" y="-4" width="2" height="10" fill="#6e7468"/></g><g transform="translate(155,82) rotate(-33)"><rect x="-8" y="1" width="16" height="6" fill="#c4c8bc"/><rect x="-7" y="2.5" width="14" height="0.8" fill="#8e9890"/><rect x="-8" y="-5" width="16" height="6.5" fill="#7a3820"/><rect x="-8" y="-1.2" width="16" height="2.2" fill="#a04a2a"/><rect x="-10.5" y="-5" width="2.8" height="12" fill="#f2ede2"/><rect x="7.8" y="-4" width="2" height="10" fill="#6e7468"/></g><g transform="translate(167,28) rotate(-33)"><rect x="-8" y="1" width="16" height="6" fill="#c4c8bc"/><rect x="-7" y="2.5" width="14" height="0.8" fill="#8e9890"/><rect x="-8" y="-5" width="16" height="6.5" fill="#7a3820"/><rect x="-8" y="-1.2" width="16" height="2.2" fill="#a04a2a"/><rect x="-10.5" y="-5" width="2.8" height="12" fill="#f2ede2"/><rect x="7.8" y="-4" width="2" height="10" fill="#6e7468"/></g><g transform="translate(187,20) rotate(-33)"><rect x="-8" y="1" width="16" height="6" fill="#c4c8bc"/><rect x="-7" y="2.5" width="14" height="0.8" fill="#8e9890"/><rect x="-8" y="-5" width="16" height="6.5" fill="#7a3820"/><rect x="-8" y="-1.2" width="16" height="2.2" fill="#a04a2a"/><rect x="-10.5" y="-5" width="2.8" height="12" fill="#f2ede2"/><rect x="7.8" y="-4" width="2" height="10" fill="#6e7468"/></g><g transform="translate(202,9) rotate(-33)"><rect x="-8" y="1" width="16" height="6" fill="#c4c8bc"/><rect x="-7" y="2.5" width="14" height="0.8" fill="#8e9890"/><rect x="-8" y="-5" width="16" height="6.5" fill="#7a3820"/><rect x="-8" y="-1.2" width="16" height="2.2" fill="#a04a2a"/><rect x="-10.5" y="-5" width="2.8" height="12" fill="#f2ede2"/><rect x="7.8" y="-4" width="2" height="10" fill="#6e7468"/></g><g transform="translate(230,30) rotate(-33)"><rect x="-8" y="1" width="16" height="6" fill="#c4c8bc"/><rect x="-7" y="2.5" width="14" height="0.8" fill="#8e9890"/><rect x="-8" y="-5" width="16" height="6.5" fill="#7a3820"/><rect x="-8" y="-1.2" width="16" height="2.2" fill="#a04a2a"/><rect x="-10.5" y="-5" width="2.8" height="12" fill="#f2ede2"/><rect x="7.8" y="-4" width="2" height="10" fill="#6e7468"/></g><g transform="translate(247,16) rotate(-33)"><rect x="-8" y="1" width="16" height="6" fill="#c4c8bc"/><rect x="-7" y="2.5" width="14" height="0.8" fill="#8e9890"/><rect x="-8" y="-5" width="16" height="6.5" fill="#7a3820"/><rect x="-8" y="-1.2" width="16" height="2.2" fill="#a04a2a"/><rect x="-10.5" y="-5" width="2.8" height="12" fill="#f2ede2"/><rect x="7.8" y="-4" width="2" height="10" fill="#6e7468"/></g><g transform="translate(195,59) rotate(-33)"><rect x="-8" y="1" width="16" height="6" fill="#c4c8bc"/><rect x="-7" y="2.5" width="14" height="0.8" fill="#8e9890"/><rect x="-8" y="-5" width="16" height="6.5" fill="#7a3820"/><rect x="-8" y="-1.2" width="16" height="2.2" fill="#a04a2a"/><rect x="-10.5" y="-5" width="2.8" height="12" fill="#f2ede2"/><rect x="7.8" y="-4" width="2" height="10" fill="#6e7468"/></g><g transform="translate(170,72) rotate(-33)"><rect x="-8" y="1" width="16" height="6" fill="#c4c8bc"/><rect x="-7" y="2.5" width="14" height="0.8" fill="#8e9890"/><rect x="-8" y="-5" width="16" height="6.5" fill="#7a3820"/><rect x="-8" y="-1.2" width="16" height="2.2" fill="#a04a2a"/><rect x="-10.5" y="-5" width="2.8" height="12" fill="#f2ede2"/><rect x="7.8" y="-4" width="2" height="10" fill="#6e7468"/></g><g transform="translate(215,45) rotate(-33)"><rect x="-8" y="1" width="16" height="6" fill="#c4c8bc"/><rect x="-7" y="2.5" width="14" height="0.8" fill="#8e9890"/><rect x="-8" y="-5" width="16" height="6.5" fill="#7a3820"/><rect x="-8" y="-1.2" width="16" height="2.2" fill="#a04a2a"/><rect x="-10.5" y="-5" width="2.8" height="12" fill="#f2ede2"/><rect x="7.8" y="-4" width="2" height="10" fill="#6e7468"/></g><path d="M0,0 L16.4,0 L32,37 L0,68.6 Z" fill="url(#pOr2)"/><path d="M0,68.6 L32,37 L35,40" stroke="#e47a3c" stroke-width="3" fill="none"/><path d="M0,68.6 L32,37 L38,43.2 L35.8,59.6 L20.9,85 L49.2,82.8 L0,104.4 Z" fill="url(#pLg)"/><path d="M16.4,0 L60,0 L70,20 L56.7,34.6 L38,43.2 L32,37 Z" fill="#9cbb58" opacity="0.85"/><g transform="translate(30,17) rotate(57)"><rect x="-9" y="-4" width="18" height="8" fill="#8a4026"/><rect x="-9" y="-4" width="18" height="2.5" fill="#f0e8dc"/><rect x="-9" y="3" width="18" height="2" fill="#8a9488"/></g><g transform="translate(50,12) rotate(57)"><rect x="-9" y="-4" width="18" height="8" fill="#8a4026"/><rect x="-9" y="-4" width="18" height="2.5" fill="#f0e8dc"/><rect x="-9" y="3" width="18" height="2" fill="#8a9488"/></g><g transform="translate(64,6) rotate(57)"><rect x="-9" y="-4" width="18" height="8" fill="#8a4026"/><rect x="-9" y="-4" width="18" height="2.5" fill="#f0e8dc"/><rect x="-9" y="3" width="18" height="2" fill="#8a9488"/></g><path d="M38,43.2 L56.7,34.6 L83.5,34 L90.2,42.5 L71.6,62.6 L55.2,76 L20.9,85 L35.8,59.6 Z" fill="#dcdcc6"/><path d="M38,43.2 L56.7,34.6 L83.5,34 L90.2,42.5 L71.6,62.6 L55.2,76 L20.9,85 L35.8,59.6 Z" fill="#6a9a88" opacity="0.35" filter="url(#spk)"/><path d="M20.9,85 L35.8,59.6 L38,43.2" stroke="#4a5a3a" stroke-width="1" fill="none"/><path d="M36,64 L56,52" stroke="#e8905a" stroke-width="2.2" fill="none"/><path d="M0,103 L50.7,80.5 L92.5,143" stroke="#e6783e" stroke-width="4.5" fill="none"/><path d="M0,105 L50.5,82 L91.5,143.5 L0,206 Z" fill="url(#pGr)"/><g transform="translate(56,183) rotate(-34)"><rect x="-10" y="-5" width="20" height="10" rx="2" fill="#3c3a36"/><rect x="-7" y="-3" width="9" height="6" fill="#e8e4dc"/><rect x="4" y="-4" width="5" height="8" fill="#8a8e88"/></g><g transform="translate(22,213) rotate(-34)"><rect x="-10" y="-5" width="20" height="10" rx="2" fill="#3c3a36"/><rect x="-7" y="-3" width="9" height="6" fill="#e8e4dc"/><rect x="4" y="-4" width="5" height="8" fill="#8a8e88"/></g><line x1="141.6" y1="237" x2="178.4" y2="216.2" stroke="#8a4a26" stroke-width="4.2"/><line x1="142.6" y1="236.4" x2="177.4" y2="216.79999999999998" stroke="#c0683a" stroke-width="1"/><line x1="211.2" y1="250.6" x2="245.6" y2="229.8" stroke="#8a4a26" stroke-width="4.2"/><line x1="212.2" y1="250.0" x2="244.6" y2="230.4" stroke="#c0683a" stroke-width="1"/><line x1="278.4" y1="273" x2="316" y2="251.4" stroke="#8a4a26" stroke-width="4.2"/><line x1="279.4" y1="272.4" x2="315" y2="252.0" stroke="#c0683a" stroke-width="1"/><polygon points="169.5,186.2 178.4,183.4 185.2,193.4 195.8,194 196.9,199 191.3,203 200.2,220.8 204.2,230.9 194.7,233.7 184,219.7 170,201.8" fill="#58524a" stroke="#26221e" stroke-width="1.5" stroke-linejoin="round"/><polygon points="237.5,201 246.5,198 253.2,208 263.8,208.6 264.9,213.6 259.3,217.6 268.2,235.4 272.2,245.5 262.7,248.3 252,234.3 238,216.4" fill="#58524a" stroke="#26221e" stroke-width="1.5" stroke-linejoin="round"/><g transform="translate(0,0)"><path d="M172,190 L180,187" stroke="#f0ece4" stroke-width="1.5"/><path d="M173,197 L186,216 M188,205 L199,224" stroke="#eeeae2" stroke-width="1.6"/><path d="M180,205 L190,222" stroke="#2e2a24" stroke-width="1.6"/><path d="M190,215 L197,228" stroke="#a8aaa8" stroke-width="3"/><circle cx="180" cy="193" r="1.8" fill="#d83a2a"/></g><g transform="translate(68,14.6)"><path d="M172,190 L180,187" stroke="#f0ece4" stroke-width="1.5"/><path d="M173,197 L186,216 M188,205 L199,224" stroke="#eeeae2" stroke-width="1.6"/><path d="M180,205 L190,222" stroke="#2e2a24" stroke-width="1.6"/><path d="M190,215 L197,228" stroke="#a8aaa8" stroke-width="3"/><circle cx="180" cy="193" r="1.8" fill="#d83a2a"/></g><path d="M291.09999999999997,37.8 Q292.7,41.0 294.5,38.199999999999996" stroke="#6a6a30" stroke-width="1.4" fill="none"/><path d="M300.09999999999997,46.7 Q301.7,49.900000000000006 303.5,47.1" stroke="#6a6a30" stroke-width="1.4" fill="none"/><path d="M309.0,57.2 Q310.6,60.400000000000006 312.40000000000003,57.6" stroke="#6a6a30" stroke-width="1.4" fill="none"/><path d="M262.79999999999995,63 Q264.4,66.2 266.2,63.4" stroke="#6a6a30" stroke-width="1.4" fill="none"/><path d="M270.2,73.6 Q271.8,76.8 273.6,74.0" stroke="#6a6a30" stroke-width="1.4" fill="none"/><path d="M280.7,87 Q282.3,90.2 284.1,87.4" stroke="#6a6a30" stroke-width="1.4" fill="none"/><path d="M289.59999999999997,101.9 Q291.2,105.10000000000001 293.0,102.30000000000001" stroke="#6a6a30" stroke-width="1.4" fill="none"/><path d="M298.59999999999997,113.8 Q300.2,117.0 302.0,114.2" stroke="#6a6a30" stroke-width="1.4" fill="none"/><path d="M309.0,125.8 Q310.6,129.0 312.40000000000003,126.2" stroke="#6a6a30" stroke-width="1.4" fill="none"/><path d="M225.5,91.5 Q227.1,94.7 228.9,91.9" stroke="#6a6a30" stroke-width="1.4" fill="none"/><path d="M235.9,103.4 Q237.5,106.60000000000001 239.3,103.80000000000001" stroke="#6a6a30" stroke-width="1.4" fill="none"/><path d="M243.4,115.3 Q245,118.5 246.8,115.7" stroke="#6a6a30" stroke-width="1.4" fill="none"/><path d="M252.3,125.8 Q253.9,129.0 255.70000000000002,126.2" stroke="#6a6a30" stroke-width="1.4" fill="none"/><path d="M258.29999999999995,136.2 Q259.9,139.39999999999998 261.7,136.6" stroke="#6a6a30" stroke-width="1.4" fill="none"/><path d="M265.79999999999995,145.1 Q267.4,148.29999999999998 269.2,145.5" stroke="#6a6a30" stroke-width="1.4" fill="none"/><path d="M273.2,155.6 Q274.8,158.79999999999998 276.6,156.0" stroke="#6a6a30" stroke-width="1.4" fill="none"/><path d="M194.20000000000002,113.8 Q195.8,117.0 197.60000000000002,114.2" stroke="#6a6a30" stroke-width="1.4" fill="none"/><path d="M201.6,125.8 Q203.2,129.0 205.0,126.2" stroke="#6a6a30" stroke-width="1.4" fill="none"/><path d="M210.6,136.2 Q212.2,139.39999999999998 214.0,136.6" stroke="#6a6a30" stroke-width="1.4" fill="none"/><path d="M219.5,149.6 Q221.1,152.79999999999998 222.9,150.0" stroke="#6a6a30" stroke-width="1.4" fill="none"/><path d="M158.4,152 Q160,155.2 161.8,152.4" stroke="#6a6a30" stroke-width="1.4" fill="none"/><path d="M169.6,168 Q171.2,171.2 173.0,168.4" stroke="#6a6a30" stroke-width="1.4" fill="none"/><path d="M228.8,161.6 Q230.4,164.79999999999998 232.20000000000002,162.0" stroke="#6a6a30" stroke-width="1.4" fill="none"/><path d="M233.6,169.6 Q235.2,172.79999999999998 237.0,170.0" stroke="#6a6a30" stroke-width="1.4" fill="none"/><path d="M238.4,180.8 Q240,184.0 241.8,181.20000000000002" stroke="#6a6a30" stroke-width="1.4" fill="none"/><path d="M244.8,188.8 Q246.4,192.0 248.20000000000002,189.20000000000002" stroke="#6a6a30" stroke-width="1.4" fill="none"/><path d="M283.2,166.4 Q284.8,169.6 286.6,166.8" stroke="#6a6a30" stroke-width="1.4" fill="none"/><path d="M291.2,177.6 Q292.8,180.79999999999998 294.6,178.0" stroke="#6a6a30" stroke-width="1.4" fill="none"/><path d="M302.4,190.4 Q304,193.6 305.8,190.8" stroke="#6a6a30" stroke-width="1.4" fill="none"/><path d="M310.4,204.8 Q312,208.0 313.8,205.20000000000002" stroke="#6a6a30" stroke-width="1.4" fill="none"/><path d="M6.4,11 Q8,14.2 9.8,11.4" stroke="#6a6a30" stroke-width="1.4" fill="none"/><path d="M10.4,24 Q12,27.2 13.8,24.4" stroke="#6a6a30" stroke-width="1.4" fill="none"/><path d="M4.4,39 Q6,42.2 7.8,39.4" stroke="#6a6a30" stroke-width="1.4" fill="none"/><line x1="9.7" y1="154" x2="9.7" y2="199" stroke="#2a2420" stroke-width="1"/><line x1="92.5" y1="107" x2="92.5" y2="145" stroke="#2a2420" stroke-width="1"/><line x1="228.6" y1="13" x2="228.6" y2="49" stroke="#2a2420" stroke-width="1"/><line x1="280.8" y1="0" x2="280.8" y2="13" stroke="#2a2420" stroke-width="1"/><line x1="164.5" y1="57" x2="164.5" y2="94" stroke="#2a2420" stroke-width="1"/><path d="M92.5,145 L118,149 M228.6,49 L260,51 M164.5,94 L195,97" stroke="#3a3028" stroke-width="0.6" fill="none"/></svg></div>
<div class="t" style="left:52.75px;top:84.30px;font-size:30.14px;font-weight:700;color:#1d1812;transform:scaleX(0.8545);">COLLECTIVIZATION</div><div class="t" style="left:318.47px;top:84.30px;font-size:30.14px;font-weight:700;color:#1d1812;transform:scaleX(0.8275);">OF</div><div class="t" style="left:371.4px;top:84.30px;font-size:30.14px;font-weight:700;color:#1d1812;transform:scaleX(0.8012);">PEASANTS’</div><div class="t" style="left:526.36px;top:84.30px;font-size:30.14px;font-weight:700;color:#1d1812;transform:scaleX(0.8206);">FARMS</div>
<div class="t" style="left:383.15px;top:396.65px;font-size:19.3px;font-weight:400;color:#1d1812;transform:scaleX(0.8462);">FARMS</div><div class="t" style="left:448.12px;top:396.65px;font-size:19.3px;font-weight:400;color:#1d1812;transform:scaleX(0.875);">NOT</div><div class="t" style="left:494.12px;top:396.65px;font-size:19.3px;font-weight:400;color:#1d1812;transform:scaleX(0.8792);">COLLECTIVIZED</div><div class="t" style="left:643.15px;top:396.65px;font-size:19.3px;font-weight:400;color:#1d1812;transform:scaleX(0.8462);">FARMS</div><div class="t" style="left:708.11px;top:396.65px;font-size:19.3px;font-weight:400;color:#1d1812;transform:scaleX(0.8859);">COLLECTIVIZED</div>
<div class="t" style="left:66.18px;top:455.15px;font-size:37.27px;font-weight:700;color:#e82a1b;transform:scaleX(1.0217);">929</div><div class="t" style="left:67.8px;top:735.15px;font-size:37.27px;font-weight:700;color:#e82a1b;transform:scaleX(0.995);">938</div><svg class="abs" style="left:0;top:0" width="200" height="800"><polygon points="58.8,460.4 63.9,460.4 63.9,485.8 58.8,485.8 58.8,469.0 53.3,469.2 53.1,465.2 57.8,460.8" fill="#e82a1b"/><polygon points="61.2,740.4 66.3,740.4 66.3,765.8 61.2,765.8 61.2,749.0 55.7,749.2 55.5,745.2 60.2,740.8" fill="#e82a1b"/></svg><div class="t" style="left:50.25px;top:497.00px;font-size:17px;font-weight:400;color:#e82a1b;transform:scaleX(0.95);-webkit-text-stroke:0.6px currentColor;">(</div><div class="t" style="left:58.72px;top:496.40px;font-size:17px;font-weight:400;color:#e82a1b;transform:scaleX(0.9765);-webkit-text-stroke:0.6px currentColor;">on</div><div class="t" style="left:87.0px;top:495.75px;font-size:17px;font-weight:400;color:#e82a1b;transform:scaleX(0.9933);-webkit-text-stroke:0.6px currentColor;">July</div><div class="t" style="left:121.85px;top:495.25px;font-size:17px;font-weight:400;color:#e82a1b;transform:scaleX(0.8);-webkit-text-stroke:0.6px currentColor;">1</div><div class="t" style="left:133.9px;top:497.00px;font-size:17px;font-weight:400;color:#e82a1b;transform:scaleX(0.74);-webkit-text-stroke:0.6px currentColor;">)</div><div class="t" style="left:51.38px;top:775.70px;font-size:17px;font-weight:400;color:#e82a1b;transform:scaleX(0.925);-webkit-text-stroke:0.6px currentColor;">(</div><div class="t" style="left:60.32px;top:776.00px;font-size:17px;font-weight:400;color:#e82a1b;transform:scaleX(0.9765);-webkit-text-stroke:0.6px currentColor;">on</div><div class="t" style="left:88.5px;top:774.65px;font-size:17px;font-weight:400;color:#e82a1b;transform:scaleX(0.98);-webkit-text-stroke:0.6px currentColor;">July</div><div class="t" style="left:128.8px;top:773.70px;font-size:17px;font-weight:400;color:#e82a1b;transform:scaleX(0.8);-webkit-text-stroke:0.6px currentColor;">1</div><div class="t" style="left:139.7px;top:775.70px;font-size:17px;font-weight:400;color:#e82a1b;transform:scaleX(0.86);-webkit-text-stroke:0.6px currentColor;">)</div>
<div class="t" style="left:147.1px;top:440.40px;font-size:13.6px;font-weight:400;color:#1d1812;transform:scaleX(1.1027);">96.1%</div><div class="t" style="left:148.52px;top:543.40px;font-size:13.6px;font-weight:400;color:#1d1812;transform:scaleX(1.0811);">95.1%</div><div class="t" style="left:664.87px;top:439.00px;font-size:13.6px;font-weight:400;color:#1d1812;transform:scaleX(1.1333);">3.9%</div><div class="t" style="left:666.0px;top:541.30px;font-size:13.6px;font-weight:400;color:#1d1812;transform:scaleX(1.1032);">4.9%</div><div class="t" style="left:573.95px;top:721.70px;font-size:13.6px;font-weight:400;color:#1d1812;transform:scaleX(1.0533);">6.5%</div><div class="t" style="left:591.6px;top:822.80px;font-size:13.6px;font-weight:400;color:#1d1812;transform:scaleX(1.0839);">0.7%</div><div class="t" style="left:1075.79px;top:721.90px;font-size:13.6px;font-weight:400;color:#1d1812;transform:scaleX(1.0098);">93.5 %</div><div class="t" style="left:1099.86px;top:822.80px;font-size:13.6px;font-weight:400;color:#1d1812;transform:scaleX(1.1351);">99.3%</div>
<div class="t" style="left:55.62px;top:870.20px;font-size:19.7px;font-weight:400;color:#1d1812;transform:scaleX(0.9381);">Each</div><div class="t" style="left:107.78px;top:870.20px;font-size:19.7px;font-weight:400;color:#1d1812;transform:scaleX(0.9231);">house</div><div class="t" style="left:167.49px;top:870.20px;font-size:19.7px;font-weight:400;color:#1d1812;transform:scaleX(0.9116);">denotes</div><div class="t" style="left:240.99px;top:870.20px;font-size:19.7px;font-weight:400;color:#1d1812;transform:scaleX(1.0105);">10%</div><div class="t" style="left:291.17px;top:870.20px;font-size:19.7px;font-weight:400;color:#1d1812;transform:scaleX(0.9312);">of</div><div class="t" style="left:317.7px;top:870.20px;font-size:19.7px;font-weight:400;color:#1d1812;transform:scaleX(0.9111);">the</div><div class="t" style="left:352.9px;top:870.20px;font-size:19.7px;font-weight:400;color:#1d1812;transform:scaleX(0.9765);">whole</div><div class="t" style="left:413.35px;top:870.20px;font-size:19.7px;font-weight:400;color:#1d1812;transform:scaleX(0.9545);">number</div><div class="t" style="left:488.05px;top:870.20px;font-size:19.7px;font-weight:400;color:#1d1812;transform:scaleX(0.95);">of</div><div class="t" style="left:514.95px;top:870.20px;font-size:19.7px;font-weight:400;color:#1d1812;transform:scaleX(0.8537);">peasants’</div><div class="t" style="left:602.2px;top:870.20px;font-size:19.7px;font-weight:400;color:#1d1812;transform:scaleX(0.9245);">farms.</div><div class="t" style="left:55.62px;top:901.75px;font-size:19.7px;font-weight:400;color:#1d1812;transform:scaleX(0.9381);">Each</div><div class="t" style="left:107.73px;top:901.75px;font-size:19.7px;font-weight:400;color:#1d1812;transform:scaleX(0.9722);">rectangle</div><div class="t" style="left:196.29px;top:901.75px;font-size:19.7px;font-weight:400;color:#1d1812;transform:scaleX(0.9116);">denotes</div><div class="t" style="left:269.79px;top:901.75px;font-size:19.7px;font-weight:400;color:#1d1812;transform:scaleX(1.0105);">10%</div><div class="t" style="left:319.96px;top:901.75px;font-size:19.7px;font-weight:400;color:#1d1812;transform:scaleX(0.9375);">of</div><div class="t" style="left:346.5px;top:901.75px;font-size:19.7px;font-weight:400;color:#1d1812;transform:scaleX(1.0556);">the</div><div class="t" style="left:382.8px;top:901.75px;font-size:19.7px;font-weight:400;color:#1d1812;transform:scaleX(0.9722);">total</div><div class="t" style="left:428.55px;top:901.75px;font-size:19.7px;font-weight:400;color:#1d1812;transform:scaleX(0.9492);">sowing</div><div class="t" style="left:496.24px;top:901.75px;font-size:19.7px;font-weight:400;color:#1d1812;transform:scaleX(0.9564);">area</div><div class="t" style="left:545.26px;top:901.75px;font-size:19.7px;font-weight:400;color:#1d1812;transform:scaleX(0.9437);">of</div><div class="t" style="left:570.95px;top:901.75px;font-size:19.7px;font-weight:400;color:#1d1812;transform:scaleX(0.8537);">peasants’</div><div class="t" style="left:658.2px;top:901.75px;font-size:19.7px;font-weight:400;color:#1d1812;transform:scaleX(0.9453);">farms.</div><div class="t" style="left:1406.84px;top:1011.20px;font-size:16.6px;font-weight:400;color:#1d1812;transform:scaleX(1.1571);">6 3</div>
</body></html>
